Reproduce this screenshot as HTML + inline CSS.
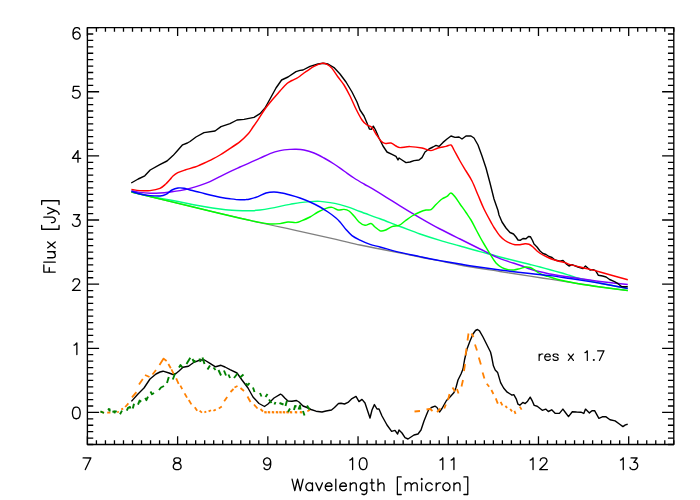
<!DOCTYPE html>
<html><head><meta charset="utf-8"><title>plot</title>
<style>html,body{margin:0;padding:0;background:#fff}svg{display:block}text{font-family:"Liberation Sans",sans-serif;fill:#000}</style></head>
<body>
<svg width="700" height="500" viewBox="0 0 700 500">
<rect width="700" height="500" fill="#fff"/>
<path d="M131.4,192.0 C141.2,194.4 170.2,201.5 190.0,206.2 C209.8,210.9 231.7,216.2 250.0,220.4 C268.3,224.6 285.7,228.1 300.0,231.3 C314.3,234.5 326.0,237.1 336.0,239.4 C346.0,241.7 352.7,243.4 360.0,245.0 C367.3,246.6 370.0,247.0 380.0,249.0 C390.0,251.0 406.7,254.3 420.0,257.0 C433.3,259.7 446.7,262.6 460.0,265.0 C473.3,267.4 488.3,269.6 500.0,271.5 C511.7,273.4 521.7,274.9 530.0,276.2 C538.3,277.5 543.3,278.2 550.0,279.2 C556.7,280.2 561.7,281.0 570.0,282.3 C578.3,283.6 590.4,285.4 600.0,286.8 C609.6,288.2 623.2,290.1 627.8,290.7" fill="none" stroke="#808080" stroke-width="1.3" stroke-linejoin="round" stroke-linecap="butt" />
<path d="M131.4,191.8 C134.5,192.5 143.6,194.8 150.0,196.2 C156.4,197.6 163.3,198.7 170.0,200.0 C176.7,201.3 184.2,202.9 190.0,204.0 C195.8,205.1 200.0,206.0 205.0,206.8 C210.0,207.6 215.5,208.4 220.0,209.0 C224.5,209.6 228.0,209.9 232.0,210.2 C236.0,210.5 240.7,210.6 244.0,210.7 C247.3,210.8 249.3,210.8 252.0,210.7 C254.7,210.6 257.0,210.4 260.0,210.0 C263.0,209.6 266.7,209.0 270.0,208.4 C273.3,207.8 276.7,207.1 280.0,206.4 C283.3,205.7 286.7,205.0 290.0,204.4 C293.3,203.8 296.7,203.1 300.0,202.6 C303.3,202.1 306.7,201.8 310.0,201.6 C313.3,201.4 316.7,201.2 320.0,201.4 C323.3,201.6 326.7,202.1 330.0,202.6 C333.3,203.1 336.7,203.8 340.0,204.6 C343.3,205.4 346.7,206.4 350.0,207.6 C353.3,208.8 355.0,209.6 360.0,211.5 C365.0,213.4 373.3,216.3 380.0,218.8 C386.7,221.3 393.3,224.0 400.0,226.5 C406.7,229.0 413.3,231.7 420.0,234.0 C426.7,236.3 433.3,238.4 440.0,240.4 C446.7,242.4 453.3,244.1 460.0,246.0 C466.7,247.9 473.3,249.8 480.0,251.6 C486.7,253.4 493.3,255.3 500.0,257.0 C506.7,258.7 515.0,260.8 520.0,262.0 C525.0,263.2 526.7,263.7 530.0,264.5 C533.3,265.3 536.7,266.1 540.0,267.0 C543.3,267.9 546.7,268.9 550.0,269.8 C553.3,270.7 556.7,271.6 560.0,272.5 C563.3,273.4 566.7,274.5 570.0,275.5 C573.3,276.5 575.0,277.2 580.0,278.5 C585.0,279.8 592.0,281.7 600.0,283.3 C608.0,284.9 623.2,287.5 627.8,288.3" fill="none" stroke="#00ff80" stroke-width="1.45" stroke-linejoin="round" stroke-linecap="butt" />
<path d="M131.4,190.6 C132.8,190.9 136.9,192.0 140.0,192.4 C143.1,192.8 146.7,193.1 150.0,193.2 C153.3,193.3 156.7,193.2 160.0,193.0 C163.3,192.8 166.7,192.4 170.0,192.0 C173.3,191.6 176.7,191.2 180.0,190.6 C183.3,190.0 186.7,189.3 190.0,188.4 C193.3,187.5 196.7,186.5 200.0,185.4 C203.3,184.3 206.7,183.1 210.0,181.6 C213.3,180.1 216.7,178.3 220.0,176.6 C223.3,174.9 226.7,173.2 230.0,171.6 C233.3,170.0 236.7,168.5 240.0,167.0 C243.3,165.5 246.7,164.1 250.0,162.6 C253.3,161.1 256.7,159.7 260.0,158.2 C263.3,156.7 266.7,154.9 270.0,153.6 C273.3,152.3 276.7,151.3 280.0,150.6 C283.3,149.9 287.3,149.6 290.0,149.4 C292.7,149.2 293.7,149.1 296.0,149.2 C298.3,149.3 301.0,149.4 304.0,150.0 C307.0,150.6 310.7,151.7 314.0,153.0 C317.3,154.3 320.7,156.2 324.0,158.0 C327.3,159.8 330.7,161.8 334.0,164.0 C337.3,166.2 340.7,168.7 344.0,171.0 C347.3,173.3 350.7,175.8 354.0,178.0 C357.3,180.2 360.3,181.9 364.0,184.0 C367.7,186.1 372.0,188.4 376.0,190.8 C380.0,193.2 384.0,195.8 388.0,198.3 C392.0,200.8 394.7,202.6 400.0,205.8 C405.3,209.1 413.3,213.9 420.0,217.8 C426.7,221.7 433.3,225.5 440.0,229.0 C446.7,232.5 453.3,235.7 460.0,239.0 C466.7,242.3 473.3,245.7 480.0,249.0 C486.7,252.3 493.3,255.9 500.0,258.6 C506.7,261.3 515.0,263.5 520.0,265.2 C525.0,266.9 526.7,267.9 530.0,269.0 C533.3,270.1 536.7,271.0 540.0,271.8 C543.3,272.6 546.7,273.3 550.0,274.0 C553.3,274.7 555.0,275.0 560.0,275.8 C565.0,276.6 575.0,277.9 580.0,278.6 C585.0,279.3 586.7,279.5 590.0,280.0 C593.3,280.5 593.7,280.8 600.0,281.5 C606.3,282.2 623.2,284.0 627.8,284.5" fill="none" stroke="#8000ff" stroke-width="1.45" stroke-linejoin="round" stroke-linecap="butt" />
<path d="M131.4,192.0 C134.5,192.8 140.2,194.1 150.0,196.5 C159.8,198.9 178.3,203.4 190.0,206.2 C201.7,209.0 211.7,211.5 220.0,213.5 C228.3,215.5 235.0,217.0 240.0,218.2 C245.0,219.3 246.7,219.7 250.0,220.4 C253.3,221.1 256.7,221.8 260.0,222.4 C263.3,223.0 266.7,223.8 270.0,224.0 C273.3,224.2 277.0,223.9 280.0,223.6 C283.0,223.3 285.3,222.2 288.0,222.0 C290.7,221.8 293.7,222.8 296.0,222.6 C298.3,222.4 299.7,221.5 302.0,220.6 C304.3,219.7 307.3,218.4 310.0,217.0 C312.7,215.6 315.3,213.4 318.0,212.0 C320.7,210.6 323.7,209.2 326.0,208.4 C328.3,207.6 330.0,207.1 332.0,207.4 C334.0,207.7 336.0,209.7 338.0,210.0 C340.0,210.3 342.2,209.2 344.0,209.4 C345.8,209.6 347.3,209.9 349.0,211.0 C350.7,212.1 352.3,214.2 354.0,216.0 C355.7,217.8 357.2,220.4 359.0,222.0 C360.8,223.6 363.0,225.1 365.0,225.3 C367.0,225.6 369.3,223.2 371.0,223.5 C372.7,223.8 373.5,225.8 375.0,227.0 C376.5,228.2 378.3,230.1 380.0,230.7 C381.7,231.2 383.0,231.0 385.0,230.3 C387.0,229.6 389.7,227.4 392.0,226.6 C394.3,225.8 396.8,226.3 399.0,225.4 C401.2,224.5 402.8,222.6 405.0,221.0 C407.2,219.4 409.5,217.5 412.0,216.0 C414.5,214.5 417.7,213.0 420.0,212.0 C422.3,211.0 424.2,210.4 426.0,210.0 C427.8,209.6 429.3,210.5 431.0,209.6 C432.7,208.7 434.2,206.3 436.0,204.5 C437.8,202.7 440.2,200.3 442.0,199.0 C443.8,197.7 445.5,197.4 447.0,196.4 C448.5,195.4 449.7,192.9 451.0,193.0 C452.3,193.1 453.5,195.0 455.0,196.8 C456.5,198.6 458.2,201.4 460.0,204.0 C461.8,206.6 464.2,209.8 466.0,212.5 C467.8,215.2 469.3,217.2 471.0,220.0 C472.7,222.8 474.5,226.7 476.0,229.5 C477.5,232.3 478.7,234.6 480.0,237.0 C481.3,239.4 482.3,241.2 484.0,244.0 C485.7,246.8 488.0,250.8 490.0,254.0 C492.0,257.2 494.0,260.7 496.0,263.0 C498.0,265.3 500.0,266.5 502.0,267.6 C504.0,268.7 506.0,269.2 508.0,269.6 C510.0,270.0 512.0,270.2 514.0,270.0 C516.0,269.8 518.0,269.1 520.0,268.6 C522.0,268.1 524.3,267.2 526.0,267.0 C527.7,266.8 528.7,267.1 530.0,267.5 C531.3,267.9 532.7,268.7 534.0,269.5 C535.3,270.3 536.7,271.7 538.0,272.5 C539.3,273.3 540.7,273.9 542.0,274.5 C543.3,275.1 544.7,275.6 546.0,276.0 C547.3,276.4 547.7,276.3 550.0,277.0 C552.3,277.7 556.7,279.2 560.0,280.0 C563.3,280.8 566.7,281.3 570.0,282.0 C573.3,282.7 576.7,283.4 580.0,284.0 C583.3,284.6 586.7,285.0 590.0,285.5 C593.3,286.0 593.7,286.2 600.0,287.0 C606.3,287.8 623.2,289.9 627.8,290.5" fill="none" stroke="#00ff00" stroke-width="1.45" stroke-linejoin="round" stroke-linecap="butt" />
<path d="M131.4,191.4 C132.8,191.8 136.9,193.3 140.0,194.0 C143.1,194.7 146.7,195.3 150.0,195.6 C153.3,195.9 157.3,196.2 160.0,196.0 C162.7,195.8 164.0,195.4 166.0,194.4 C168.0,193.4 170.0,191.1 172.0,190.0 C174.0,188.9 176.0,188.3 178.0,188.0 C180.0,187.7 182.0,187.9 184.0,188.2 C186.0,188.5 187.3,189.3 190.0,190.0 C192.7,190.7 196.7,191.6 200.0,192.4 C203.3,193.2 206.7,194.2 210.0,195.0 C213.3,195.8 216.7,196.6 220.0,197.2 C223.3,197.8 226.7,198.4 230.0,198.8 C233.3,199.2 237.3,199.7 240.0,199.8 C242.7,199.9 244.3,199.7 246.0,199.6 C247.7,199.5 248.0,199.5 250.0,199.0 C252.0,198.5 255.3,197.6 258.0,196.6 C260.7,195.6 263.3,193.8 266.0,193.0 C268.7,192.2 271.3,192.0 274.0,192.0 C276.7,192.0 279.3,192.5 282.0,193.0 C284.7,193.5 287.0,194.2 290.0,195.0 C293.0,195.8 296.7,196.8 300.0,198.0 C303.3,199.2 306.7,200.5 310.0,202.0 C313.3,203.5 317.0,205.3 320.0,207.0 C323.0,208.7 325.3,210.2 328.0,212.0 C330.7,213.8 334.0,216.3 336.0,218.0 C338.0,219.7 338.3,220.1 340.0,222.0 C341.7,223.9 344.0,227.2 346.0,229.5 C348.0,231.8 349.7,233.8 352.0,235.6 C354.3,237.4 357.0,238.7 360.0,240.2 C363.0,241.7 366.7,243.3 370.0,244.4 C373.3,245.5 375.0,245.7 380.0,247.0 C385.0,248.3 393.3,250.8 400.0,252.4 C406.7,254.0 413.3,255.2 420.0,256.6 C426.7,258.0 433.3,259.4 440.0,260.6 C446.7,261.8 454.2,263.0 460.0,264.0 C465.8,265.0 468.3,265.5 475.0,266.5 C481.7,267.5 490.8,268.8 500.0,270.0 C509.2,271.2 521.7,272.6 530.0,273.5 C538.3,274.4 543.3,274.8 550.0,275.6 C556.7,276.4 563.3,277.5 570.0,278.5 C576.7,279.5 585.0,280.8 590.0,281.6 C595.0,282.4 593.7,282.2 600.0,283.3 C606.3,284.4 623.2,287.6 627.8,288.5" fill="none" stroke="#0000ff" stroke-width="1.45" stroke-linejoin="round" stroke-linecap="butt" />
<path d="M131.2,183.0 L138.2,179.0 L144.8,175.8 L150.2,170.0 L159.8,164.6 L167.0,161.0 L173.0,155.6 L177.8,150.2 L182.6,144.8 L187.4,143.0 L190.0,141.5 L196.0,137.0 L204.0,132.6 L215.0,131.0 L221.0,126.6 L230.0,123.6 L237.0,120.0 L244.0,119.4 L254.0,117.4 L260.0,113.6 L265.0,108.0 L270.0,99.0 L276.0,88.0 L281.6,80.0 L288.0,77.0 L296.0,71.6 L300.0,70.4 L303.0,70.0 L310.0,66.4 L318.0,64.0 L323.0,63.2 L328.0,64.0 L334.0,67.6 L340.0,74.0 L346.0,82.0 L352.0,92.0 L357.0,102.0 L360.0,110.0 L364.0,116.0 L367.0,123.0 L369.4,129.0 L371.4,129.4 L373.3,126.2 L375.3,129.5 L379.0,138.0 L383.0,146.0 L387.0,152.0 L392.0,154.4 L396.0,156.4 L398.0,160.0 L399.0,158.0 L402.0,160.0 L406.0,162.6 L410.0,162.0 L414.0,160.6 L419.0,160.0 L422.0,157.6 L425.0,152.0 L429.0,149.0 L433.0,147.0 L436.0,145.4 L439.0,146.4 L443.0,142.4 L447.0,139.0 L451.0,136.0 L455.0,137.4 L459.0,137.0 L462.0,139.0 L466.0,136.0 L471.0,136.0 L474.0,138.0 L478.0,145.0 L482.0,156.0 L486.0,168.0 L490.0,183.0 L494.0,199.0 L498.0,210.5 L499.0,215.0 L502.0,222.0 L506.0,228.0 L510.0,232.5 L513.5,234.0 L516.0,237.0 L518.0,240.0 L520.5,240.2 L523.0,238.5 L526.0,238.8 L528.5,236.5 L530.5,236.8 L532.5,240.5 L534.0,244.0 L537.0,247.0 L540.0,251.0 L543.0,253.5 L546.0,254.5 L549.0,256.5 L552.0,257.5 L555.0,260.0 L560.0,261.2 L563.0,260.5 L566.0,263.6 L569.0,266.0 L572.0,264.6 L578.0,267.0 L583.0,268.5 L585.5,266.0 L590.0,270.0 L593.1,269.6 L595.6,270.7 L598.4,275.3 L602.6,276.0 L606.1,277.0 L609.6,279.5 L614.5,281.6 L618.0,283.7 L621.5,286.5 L625.0,286.8 L627.8,286.6" fill="none" stroke="#000" stroke-width="1.4" stroke-linejoin="round" stroke-linecap="butt" />
<path d="M131.4,189.4 C132.8,189.6 136.9,190.4 140.0,190.6 C143.1,190.8 146.7,191.0 150.0,190.6 C153.3,190.2 157.4,189.4 160.0,188.3 C162.6,187.2 164.1,185.5 165.8,184.0 C167.5,182.5 168.8,180.8 170.0,179.5 C171.2,178.2 171.7,177.2 173.0,176.0 C174.3,174.8 175.8,173.6 177.8,172.6 C179.8,171.6 182.1,170.9 185.0,170.0 C187.9,169.1 192.5,167.8 195.0,167.0 C197.5,166.2 197.5,166.1 200.0,165.0 C202.5,163.9 206.7,162.1 210.0,160.4 C213.3,158.7 217.0,156.8 220.0,155.0 C223.0,153.2 224.7,152.0 228.0,149.8 C231.3,147.6 236.7,144.2 240.0,141.6 C243.3,139.0 245.8,136.4 248.0,134.0 C250.2,131.6 251.3,129.4 253.0,127.0 C254.7,124.6 256.0,122.8 258.0,119.8 C260.0,116.8 262.5,112.5 265.0,109.0 C267.5,105.5 270.5,102.0 273.0,99.0 C275.5,96.0 277.7,93.6 280.0,91.0 C282.3,88.4 285.0,85.2 287.0,83.5 C289.0,81.8 290.2,81.5 292.0,80.5 C293.8,79.5 296.0,78.8 298.0,77.5 C300.0,76.2 302.3,74.2 304.0,73.0 C305.7,71.8 306.3,71.4 308.0,70.3 C309.7,69.2 311.7,67.6 314.0,66.4 C316.3,65.2 319.8,63.7 322.0,63.4 C324.2,63.1 325.3,63.6 327.0,64.4 C328.7,65.2 330.2,66.3 332.0,68.4 C333.8,70.5 336.0,74.2 338.0,77.0 C340.0,79.8 342.0,81.8 344.0,85.0 C346.0,88.2 348.0,92.0 350.0,96.0 C352.0,100.0 354.0,105.0 356.0,109.0 C358.0,113.0 360.2,117.3 362.0,120.0 C363.8,122.7 365.3,123.8 367.0,125.0 C368.7,126.2 370.5,126.0 372.0,127.5 C373.5,129.0 374.5,131.8 376.0,134.0 C377.5,136.2 379.5,139.4 381.0,141.0 C382.5,142.6 383.3,143.1 385.0,143.4 C386.7,143.7 389.2,142.6 391.0,143.0 C392.8,143.4 394.5,145.2 396.0,146.0 C397.5,146.8 397.7,147.5 400.0,147.6 C402.3,147.7 406.3,146.5 410.0,146.6 C413.7,146.7 418.5,147.3 422.0,148.0 C425.5,148.7 428.3,150.6 431.0,150.6 C433.7,150.6 435.5,148.7 438.0,148.0 C440.5,147.3 443.8,146.9 446.0,146.4 C448.2,145.9 449.7,144.4 451.0,145.0 C452.3,145.6 452.5,147.3 454.0,150.0 C455.5,152.7 458.0,157.5 460.0,161.0 C462.0,164.5 464.0,167.7 466.0,171.0 C468.0,174.3 470.0,177.0 472.0,181.0 C474.0,185.0 476.0,190.3 478.0,195.0 C480.0,199.7 481.7,204.2 484.0,209.0 C486.3,213.8 490.2,220.7 492.0,224.0 C493.8,227.3 493.7,227.0 495.0,229.0 C496.3,231.0 498.3,234.1 500.0,236.0 C501.7,237.9 503.3,239.3 505.0,240.5 C506.7,241.7 508.3,242.5 510.0,243.2 C511.7,243.9 513.3,244.4 515.0,244.7 C516.7,244.9 518.3,244.8 520.0,244.7 C521.7,244.5 523.5,243.9 525.0,243.8 C526.5,243.7 527.7,243.8 529.0,244.3 C530.3,244.8 531.7,245.9 533.0,247.0 C534.3,248.1 535.5,249.8 537.0,251.0 C538.5,252.2 540.3,253.5 542.0,254.5 C543.7,255.5 545.2,256.2 547.0,257.0 C548.8,257.8 551.0,258.8 553.0,259.5 C555.0,260.2 557.0,260.7 559.0,261.2 C561.0,261.7 563.2,262.0 565.0,262.6 C566.8,263.2 567.5,263.9 570.0,264.6 C572.5,265.3 576.7,266.2 580.0,267.0 C583.3,267.8 586.7,268.6 590.0,269.4 C593.3,270.2 593.7,270.3 600.0,272.0 C606.3,273.7 623.2,278.5 627.8,279.8" fill="none" stroke="#ff0000" stroke-width="1.45" stroke-linejoin="round" stroke-linecap="butt" />
<path d="M131.4,401.4 L138.0,394.0 L144.0,388.0 L150.0,379.0 L156.0,374.0 L160.0,372.0 L163.0,371.2 L169.0,373.0 L173.0,374.5 L176.0,373.5 L179.0,371.0 L183.0,367.3 L188.5,366.2 L194.0,362.3 L200.0,360.0 L204.5,360.0 L210.0,363.3 L215.5,366.8 L221.0,365.3 L225.0,367.0 L230.0,369.6 L237.0,373.0 L242.0,380.0 L248.0,388.0 L253.0,397.0 L259.0,403.5 L264.5,406.5 L268.0,404.0 L274.0,398.0 L280.5,394.2 L282.0,395.0 L285.0,398.3 L288.0,401.0 L292.0,401.2 L296.5,400.5 L299.0,402.0 L303.0,406.0 L307.0,407.5 L311.0,409.5 L316.0,411.2 L322.0,412.0 L326.0,411.0 L331.5,410.0 L334.5,407.5 L338.5,403.5 L341.0,403.3 L344.5,404.0 L348.0,402.4 L352.0,398.6 L356.0,396.4 L359.0,401.6 L362.0,399.4 L365.0,403.0 L368.0,412.0 L370.0,418.0 L372.0,410.0 L374.4,404.6 L377.0,409.0 L379.0,409.0 L382.0,416.0 L387.0,425.0 L391.6,431.4 L395.0,430.4 L397.6,434.0 L399.0,430.0 L402.0,433.0 L405.0,437.6 L408.0,439.0 L411.0,437.0 L414.0,435.0 L418.0,434.0 L421.0,430.0 L424.0,421.0 L426.5,414.8 L428.5,410.0 L431.5,407.5 L435.0,406.2 L437.0,407.5 L439.5,412.0 L442.0,408.5 L444.5,404.0 L446.5,400.5 L450.0,397.0 L454.0,392.5 L456.0,387.5 L458.0,380.0 L461.0,374.0 L463.0,369.0 L464.5,360.0 L467.0,349.0 L470.0,341.0 L473.0,334.0 L475.5,330.5 L477.5,329.5 L479.5,330.8 L483.0,337.0 L487.0,345.0 L490.5,352.0 L491.5,356.0 L493.4,365.8 L495.2,370.0 L497.6,372.4 L500.6,382.6 L503.6,388.0 L507.2,392.2 L510.2,394.0 L512.0,395.2 L513.8,394.6 L516.2,398.8 L518.0,404.2 L519.8,405.2 L522.8,402.4 L525.2,403.6 L527.6,401.2 L530.2,397.2 L532.4,401.2 L534.2,405.4 L537.2,406.2 L542.3,410.3 L545.7,409.1 L548.3,411.5 L551.7,409.8 L555.1,413.2 L559.4,413.4 L562.9,409.1 L565.4,412.5 L568.5,416.6 L572.3,411.7 L576.6,412.0 L580.9,412.2 L583.8,413.4 L585.5,409.1 L589.4,412.9 L592.0,410.8 L594.6,410.6 L598.9,418.3 L602.3,416.8 L605.7,416.6 L610.0,419.7 L615.1,420.9 L619.4,424.0 L622.9,426.6 L625.4,424.9 L627.7,424.3" fill="none" stroke="#000" stroke-width="1.4" stroke-linejoin="round" stroke-linecap="butt" />
<path d="M100.8,411.8 L104.0,412.6" fill="none" stroke="#ff8000" stroke-width="1.8" stroke-linejoin="round" stroke-linecap="butt" />
<path d="M107.2,412.6 L110.4,412.6" fill="none" stroke="#ff8000" stroke-width="1.8" stroke-linejoin="round" stroke-linecap="butt" />
<path d="M117.2,411.8 L118.8,412.2" fill="none" stroke="#ff8000" stroke-width="1.8" stroke-linejoin="round" stroke-linecap="butt" />
<path d="M121.2,409.4 L123.2,408.6" fill="none" stroke="#ff8000" stroke-width="1.8" stroke-linejoin="round" stroke-linecap="butt" />
<path d="M125.2,407.0 L128.4,403.4" fill="none" stroke="#ff8000" stroke-width="1.8" stroke-linejoin="round" stroke-linecap="butt" />
<path d="M132.0,397.4 L136.4,392.2" fill="none" stroke="#ff8000" stroke-width="1.8" stroke-linejoin="round" stroke-linecap="butt" />
<path d="M139.0,384.5 L142.8,379.0" fill="none" stroke="#ff8000" stroke-width="1.8" stroke-linejoin="round" stroke-linecap="butt" />
<path d="M145.0,375.0 L149.5,377.0" fill="none" stroke="#ff8000" stroke-width="1.8" stroke-linejoin="round" stroke-linecap="butt" />
<path d="M152.5,374.5 L156.0,370.0" fill="none" stroke="#ff8000" stroke-width="1.8" stroke-linejoin="round" stroke-linecap="butt" />
<path d="M159.5,365.0 L163.6,358.6 L166.6,361.0" fill="none" stroke="#ff8000" stroke-width="1.8" stroke-linejoin="round" stroke-linecap="butt" />
<path d="M168.4,364.0 L170.8,368.2" fill="none" stroke="#ff8000" stroke-width="1.8" stroke-linejoin="round" stroke-linecap="butt" />
<path d="M171.4,369.4 L173.8,374.2" fill="none" stroke="#ff8000" stroke-width="1.8" stroke-linejoin="round" stroke-linecap="butt" />
<path d="M176.2,378.4 L178.6,383.8" fill="none" stroke="#ff8000" stroke-width="1.8" stroke-linejoin="round" stroke-linecap="butt" />
<path d="M180.4,385.6 L182.2,389.2" fill="none" stroke="#ff8000" stroke-width="1.8" stroke-linejoin="round" stroke-linecap="butt" />
<path d="M184.6,393.4 L187.0,397.6" fill="none" stroke="#ff8000" stroke-width="1.8" stroke-linejoin="round" stroke-linecap="butt" />
<path d="M188.8,400.0 L191.4,404.4" fill="none" stroke="#ff8000" stroke-width="1.8" stroke-linejoin="round" stroke-linecap="butt" />
<path d="M194.8,407.2 L197.2,410.8" fill="none" stroke="#ff8000" stroke-width="1.8" stroke-linejoin="round" stroke-linecap="butt" />
<path d="M199.6,410.8 L202.0,412.6" fill="none" stroke="#ff8000" stroke-width="1.8" stroke-linejoin="round" stroke-linecap="butt" />
<path d="M204.4,412.6 L206.2,411.4" fill="none" stroke="#ff8000" stroke-width="1.8" stroke-linejoin="round" stroke-linecap="butt" />
<path d="M208.6,411.4 L211.0,410.2" fill="none" stroke="#ff8000" stroke-width="1.8" stroke-linejoin="round" stroke-linecap="butt" />
<path d="M213.4,410.8 L215.8,409.6" fill="none" stroke="#ff8000" stroke-width="1.8" stroke-linejoin="round" stroke-linecap="butt" />
<path d="M218.8,408.4 L221.8,406.6" fill="none" stroke="#ff8000" stroke-width="1.8" stroke-linejoin="round" stroke-linecap="butt" />
<path d="M224.2,401.2 L227.2,397.0" fill="none" stroke="#ff8000" stroke-width="1.8" stroke-linejoin="round" stroke-linecap="butt" />
<path d="M230.5,392.0 L233.5,389.0" fill="none" stroke="#ff8000" stroke-width="1.8" stroke-linejoin="round" stroke-linecap="butt" />
<path d="M234.5,387.5 L237.5,386.0" fill="none" stroke="#ff8000" stroke-width="1.8" stroke-linejoin="round" stroke-linecap="butt" />
<path d="M240.5,388.0 L244.0,391.0" fill="none" stroke="#ff8000" stroke-width="1.8" stroke-linejoin="round" stroke-linecap="butt" />
<path d="M247.5,396.5 L250.5,402.0" fill="none" stroke="#ff8000" stroke-width="1.8" stroke-linejoin="round" stroke-linecap="butt" />
<path d="M254.0,404.5 L257.5,408.5" fill="none" stroke="#ff8000" stroke-width="1.8" stroke-linejoin="round" stroke-linecap="butt" />
<path d="M260.5,409.0 L263.0,411.5" fill="none" stroke="#ff8000" stroke-width="1.8" stroke-linejoin="round" stroke-linecap="butt" />
<path d="M264.3,412.2 L266.7,412.3" fill="none" stroke="#ff8000" stroke-width="2.2" stroke-linejoin="round" stroke-linecap="butt" />
<path d="M267.8,412.2 L270.2,412.3" fill="none" stroke="#ff8000" stroke-width="2.2" stroke-linejoin="round" stroke-linecap="butt" />
<path d="M271.8,412.2 L274.2,412.3" fill="none" stroke="#ff8000" stroke-width="2.2" stroke-linejoin="round" stroke-linecap="butt" />
<path d="M275.8,412.2 L278.2,412.3" fill="none" stroke="#ff8000" stroke-width="2.2" stroke-linejoin="round" stroke-linecap="butt" />
<path d="M279.3,412.2 L281.7,412.3" fill="none" stroke="#ff8000" stroke-width="2.2" stroke-linejoin="round" stroke-linecap="butt" />
<path d="M282.8,412.2 L285.2,412.3" fill="none" stroke="#ff8000" stroke-width="2.2" stroke-linejoin="round" stroke-linecap="butt" />
<path d="M286.3,412.2 L288.7,412.3" fill="none" stroke="#ff8000" stroke-width="2.2" stroke-linejoin="round" stroke-linecap="butt" />
<path d="M289.8,412.2 L292.2,412.3" fill="none" stroke="#ff8000" stroke-width="2.2" stroke-linejoin="round" stroke-linecap="butt" />
<path d="M294.8,412.2 L297.2,412.3" fill="none" stroke="#ff8000" stroke-width="2.2" stroke-linejoin="round" stroke-linecap="butt" />
<path d="M299.8,412.2 L302.2,412.3" fill="none" stroke="#ff8000" stroke-width="2.2" stroke-linejoin="round" stroke-linecap="butt" />
<path d="M307.3,411.2 L310.0,410.0" fill="none" stroke="#ff8000" stroke-width="1.8" stroke-linejoin="round" stroke-linecap="butt" />
<path d="M414.5,411.5 L420.0,411.0" fill="none" stroke="#ff8000" stroke-width="1.8" stroke-linejoin="round" stroke-linecap="butt" />
<path d="M426.5,409.5 L430.0,408.8 L432.5,411.0" fill="none" stroke="#ff8000" stroke-width="1.8" stroke-linejoin="round" stroke-linecap="butt" />
<path d="M437.0,412.0 L440.5,408.5" fill="none" stroke="#ff8000" stroke-width="1.8" stroke-linejoin="round" stroke-linecap="butt" />
<path d="M444.3,408.5 L445.8,404.5" fill="none" stroke="#ff8000" stroke-width="1.8" stroke-linejoin="round" stroke-linecap="butt" />
<path d="M448.0,400.0 L449.5,394.0" fill="none" stroke="#ff8000" stroke-width="1.8" stroke-linejoin="round" stroke-linecap="butt" />
<path d="M452.5,387.5 L455.0,391.5" fill="none" stroke="#ff8000" stroke-width="1.8" stroke-linejoin="round" stroke-linecap="butt" />
<path d="M457.0,389.0 L458.5,393.5" fill="none" stroke="#ff8000" stroke-width="1.8" stroke-linejoin="round" stroke-linecap="butt" />
<path d="M461.5,386.5 L463.0,380.0" fill="none" stroke="#ff8000" stroke-width="1.8" stroke-linejoin="round" stroke-linecap="butt" />
<path d="M464.0,371.0 L465.0,364.0" fill="none" stroke="#ff8000" stroke-width="1.8" stroke-linejoin="round" stroke-linecap="butt" />
<path d="M465.5,355.5 L466.5,348.5" fill="none" stroke="#ff8000" stroke-width="1.8" stroke-linejoin="round" stroke-linecap="butt" />
<path d="M467.5,340.5 L468.5,333.5" fill="none" stroke="#ff8000" stroke-width="1.8" stroke-linejoin="round" stroke-linecap="butt" />
<path d="M471.5,333.5 L473.5,337.0" fill="none" stroke="#ff8000" stroke-width="1.8" stroke-linejoin="round" stroke-linecap="butt" />
<path d="M475.0,344.5 L477.0,350.5" fill="none" stroke="#ff8000" stroke-width="1.8" stroke-linejoin="round" stroke-linecap="butt" />
<path d="M478.8,357.4 L480.9,364.6" fill="none" stroke="#ff8000" stroke-width="1.8" stroke-linejoin="round" stroke-linecap="butt" />
<path d="M482.6,372.4 L484.4,378.4" fill="none" stroke="#ff8000" stroke-width="1.8" stroke-linejoin="round" stroke-linecap="butt" />
<path d="M486.8,383.8 L489.2,386.8" fill="none" stroke="#ff8000" stroke-width="1.8" stroke-linejoin="round" stroke-linecap="butt" />
<path d="M491.4,390.0 L493.4,394.0" fill="none" stroke="#ff8000" stroke-width="1.8" stroke-linejoin="round" stroke-linecap="butt" />
<path d="M495.8,398.4 L497.8,403.6" fill="none" stroke="#ff8000" stroke-width="1.8" stroke-linejoin="round" stroke-linecap="butt" />
<path d="M500.6,401.8 L502.4,405.4" fill="none" stroke="#ff8000" stroke-width="1.8" stroke-linejoin="round" stroke-linecap="butt" />
<path d="M505.4,406.0 L507.2,407.8" fill="none" stroke="#ff8000" stroke-width="1.8" stroke-linejoin="round" stroke-linecap="butt" />
<path d="M510.2,409.0 L512.0,411.4" fill="none" stroke="#ff8000" stroke-width="1.8" stroke-linejoin="round" stroke-linecap="butt" />
<path d="M514.4,410.8 L515.6,413.8" fill="none" stroke="#ff8000" stroke-width="1.8" stroke-linejoin="round" stroke-linecap="butt" />
<path d="M519.8,406.6 L521.6,409.6" fill="none" stroke="#ff8000" stroke-width="1.8" stroke-linejoin="round" stroke-linecap="butt" />
<path d="M100.4,411.4 L104.0,413.0" fill="none" stroke="#008000" stroke-width="1.9" stroke-linejoin="round" stroke-linecap="butt" />
<path d="M108.0,408.6 L110.0,410.6" fill="none" stroke="#008000" stroke-width="1.9" stroke-linejoin="round" stroke-linecap="butt" />
<path d="M109.3,408.3 L109.7,411.5" fill="none" stroke="#008000" stroke-width="1.9" stroke-linejoin="round" stroke-linecap="butt" />
<path d="M112.4,411.8 L116.8,411.4" fill="none" stroke="#008000" stroke-width="1.9" stroke-linejoin="round" stroke-linecap="butt" />
<path d="M114.4,410.6 L114.8,413.4" fill="none" stroke="#008000" stroke-width="1.9" stroke-linejoin="round" stroke-linecap="butt" />
<path d="M120.0,414.2 L122.0,410.6" fill="none" stroke="#008000" stroke-width="1.9" stroke-linejoin="round" stroke-linecap="butt" />
<path d="M126.8,410.6 L128.0,407.8 L130.0,407.0 L130.4,408.6" fill="none" stroke="#008000" stroke-width="1.9" stroke-linejoin="round" stroke-linecap="butt" />
<path d="M132.8,408.6 L134.0,403.8" fill="none" stroke="#008000" stroke-width="1.9" stroke-linejoin="round" stroke-linecap="butt" />
<path d="M138.0,404.6 L139.6,400.6 L141.2,401.8" fill="none" stroke="#008000" stroke-width="1.9" stroke-linejoin="round" stroke-linecap="butt" />
<path d="M145.2,397.8 L146.4,400.2 L148.0,396.6" fill="none" stroke="#008000" stroke-width="1.9" stroke-linejoin="round" stroke-linecap="butt" />
<path d="M150.5,391.5 L152.0,394.2 L154.0,393.0" fill="none" stroke="#008000" stroke-width="1.9" stroke-linejoin="round" stroke-linecap="butt" />
<path d="M159.0,390.0 L161.0,387.5 L164.0,386.0" fill="none" stroke="#008000" stroke-width="1.9" stroke-linejoin="round" stroke-linecap="butt" />
<path d="M167.0,383.0 L168.8,377.0" fill="none" stroke="#008000" stroke-width="1.9" stroke-linejoin="round" stroke-linecap="butt" />
<path d="M172.8,379.5 L175.0,373.5" fill="none" stroke="#008000" stroke-width="1.9" stroke-linejoin="round" stroke-linecap="butt" />
<path d="M179.0,367.5 L180.5,365.0 L182.5,367.5" fill="none" stroke="#008000" stroke-width="1.9" stroke-linejoin="round" stroke-linecap="butt" />
<path d="M186.5,364.0 L190.3,357.8" fill="none" stroke="#008000" stroke-width="1.9" stroke-linejoin="round" stroke-linecap="butt" />
<path d="M192.5,359.0 L194.0,362.0 L195.5,360.5" fill="none" stroke="#008000" stroke-width="1.9" stroke-linejoin="round" stroke-linecap="butt" />
<path d="M199.5,358.5 L200.5,362.0" fill="none" stroke="#008000" stroke-width="1.9" stroke-linejoin="round" stroke-linecap="butt" />
<path d="M202.5,357.5 L204.5,364.0" fill="none" stroke="#008000" stroke-width="1.9" stroke-linejoin="round" stroke-linecap="butt" />
<path d="M207.5,369.5 L210.0,365.5" fill="none" stroke="#008000" stroke-width="1.9" stroke-linejoin="round" stroke-linecap="butt" />
<path d="M213.5,367.5 L215.5,370.0" fill="none" stroke="#008000" stroke-width="1.9" stroke-linejoin="round" stroke-linecap="butt" />
<path d="M218.5,370.0 L221.0,375.5" fill="none" stroke="#008000" stroke-width="1.9" stroke-linejoin="round" stroke-linecap="butt" />
<path d="M224.0,370.5 L226.0,375.5" fill="none" stroke="#008000" stroke-width="1.9" stroke-linejoin="round" stroke-linecap="butt" />
<path d="M228.5,374.5 L230.0,378.0" fill="none" stroke="#008000" stroke-width="1.9" stroke-linejoin="round" stroke-linecap="butt" />
<path d="M234.0,378.0 L237.5,373.5" fill="none" stroke="#008000" stroke-width="1.9" stroke-linejoin="round" stroke-linecap="butt" />
<path d="M240.0,377.5 L243.5,374.5" fill="none" stroke="#008000" stroke-width="1.9" stroke-linejoin="round" stroke-linecap="butt" />
<path d="M245.5,383.5 L248.0,385.0 L249.5,383.0" fill="none" stroke="#008000" stroke-width="1.9" stroke-linejoin="round" stroke-linecap="butt" />
<path d="M253.0,387.5 L254.5,392.0" fill="none" stroke="#008000" stroke-width="1.9" stroke-linejoin="round" stroke-linecap="butt" />
<path d="M260.0,393.0 L261.5,396.5" fill="none" stroke="#008000" stroke-width="1.9" stroke-linejoin="round" stroke-linecap="butt" />
<path d="M265.5,397.0 L267.5,394.0" fill="none" stroke="#008000" stroke-width="1.9" stroke-linejoin="round" stroke-linecap="butt" />
<path d="M269.0,399.5 L271.5,403.0" fill="none" stroke="#008000" stroke-width="1.9" stroke-linejoin="round" stroke-linecap="butt" />
<path d="M274.5,404.5 L275.5,402.0" fill="none" stroke="#008000" stroke-width="1.9" stroke-linejoin="round" stroke-linecap="butt" />
<path d="M279.5,403.0 L283.5,404.5" fill="none" stroke="#008000" stroke-width="1.9" stroke-linejoin="round" stroke-linecap="butt" />
<path d="M285.5,406.0 L287.0,400.5" fill="none" stroke="#008000" stroke-width="1.9" stroke-linejoin="round" stroke-linecap="butt" />
<path d="M288.0,412.0 L290.0,408.5" fill="none" stroke="#008000" stroke-width="1.9" stroke-linejoin="round" stroke-linecap="butt" />
<path d="M294.0,410.0 L295.0,406.0 L296.5,406.5" fill="none" stroke="#008000" stroke-width="1.9" stroke-linejoin="round" stroke-linecap="butt" />
<path d="M298.5,409.5 L300.0,405.5 L300.5,409.5" fill="none" stroke="#008000" stroke-width="1.9" stroke-linejoin="round" stroke-linecap="butt" />
<path d="M303.0,411.0 L304.5,415.5" fill="none" stroke="#008000" stroke-width="1.9" stroke-linejoin="round" stroke-linecap="butt" />
<path d="M307.0,405.5 L309.5,409.5" fill="none" stroke="#008000" stroke-width="1.9" stroke-linejoin="round" stroke-linecap="butt" />
<path d="M87.4,27.6 H673.8 V444.5 H87.4 Z" fill="none" stroke="#000" stroke-width="1.35" stroke-linejoin="round"/>
<path d="M87.40,444.5 v-8.3 M87.40,27.6 v8.3 M96.42,444.5 v-4.15 M96.42,27.6 v4.15 M105.44,444.5 v-4.15 M105.44,27.6 v4.15 M114.46,444.5 v-4.15 M114.46,27.6 v4.15 M123.49,444.5 v-4.15 M123.49,27.6 v4.15 M132.51,444.5 v-4.15 M132.51,27.6 v4.15 M141.53,444.5 v-4.15 M141.53,27.6 v4.15 M150.55,444.5 v-4.15 M150.55,27.6 v4.15 M159.57,444.5 v-4.15 M159.57,27.6 v4.15 M168.59,444.5 v-4.15 M168.59,27.6 v4.15 M177.62,444.5 v-8.3 M177.62,27.6 v8.3 M186.64,444.5 v-4.15 M186.64,27.6 v4.15 M195.66,444.5 v-4.15 M195.66,27.6 v4.15 M204.68,444.5 v-4.15 M204.68,27.6 v4.15 M213.70,444.5 v-4.15 M213.70,27.6 v4.15 M222.72,444.5 v-4.15 M222.72,27.6 v4.15 M231.74,444.5 v-4.15 M231.74,27.6 v4.15 M240.77,444.5 v-4.15 M240.77,27.6 v4.15 M249.79,444.5 v-4.15 M249.79,27.6 v4.15 M258.81,444.5 v-4.15 M258.81,27.6 v4.15 M267.83,444.5 v-8.3 M267.83,27.6 v8.3 M276.85,444.5 v-4.15 M276.85,27.6 v4.15 M285.87,444.5 v-4.15 M285.87,27.6 v4.15 M294.90,444.5 v-4.15 M294.90,27.6 v4.15 M303.92,444.5 v-4.15 M303.92,27.6 v4.15 M312.94,444.5 v-4.15 M312.94,27.6 v4.15 M321.96,444.5 v-4.15 M321.96,27.6 v4.15 M330.98,444.5 v-4.15 M330.98,27.6 v4.15 M340.00,444.5 v-4.15 M340.00,27.6 v4.15 M349.02,444.5 v-4.15 M349.02,27.6 v4.15 M358.05,444.5 v-8.3 M358.05,27.6 v8.3 M367.07,444.5 v-4.15 M367.07,27.6 v4.15 M376.09,444.5 v-4.15 M376.09,27.6 v4.15 M385.11,444.5 v-4.15 M385.11,27.6 v4.15 M394.13,444.5 v-4.15 M394.13,27.6 v4.15 M403.15,444.5 v-4.15 M403.15,27.6 v4.15 M412.18,444.5 v-4.15 M412.18,27.6 v4.15 M421.20,444.5 v-4.15 M421.20,27.6 v4.15 M430.22,444.5 v-4.15 M430.22,27.6 v4.15 M439.24,444.5 v-4.15 M439.24,27.6 v4.15 M448.26,444.5 v-8.3 M448.26,27.6 v8.3 M457.28,444.5 v-4.15 M457.28,27.6 v4.15 M466.30,444.5 v-4.15 M466.30,27.6 v4.15 M475.33,444.5 v-4.15 M475.33,27.6 v4.15 M484.35,444.5 v-4.15 M484.35,27.6 v4.15 M493.37,444.5 v-4.15 M493.37,27.6 v4.15 M502.39,444.5 v-4.15 M502.39,27.6 v4.15 M511.41,444.5 v-4.15 M511.41,27.6 v4.15 M520.43,444.5 v-4.15 M520.43,27.6 v4.15 M529.46,444.5 v-4.15 M529.46,27.6 v4.15 M538.48,444.5 v-8.3 M538.48,27.6 v8.3 M547.50,444.5 v-4.15 M547.50,27.6 v4.15 M556.52,444.5 v-4.15 M556.52,27.6 v4.15 M565.54,444.5 v-4.15 M565.54,27.6 v4.15 M574.56,444.5 v-4.15 M574.56,27.6 v4.15 M583.58,444.5 v-4.15 M583.58,27.6 v4.15 M592.61,444.5 v-4.15 M592.61,27.6 v4.15 M601.63,444.5 v-4.15 M601.63,27.6 v4.15 M610.65,444.5 v-4.15 M610.65,27.6 v4.15 M619.67,444.5 v-4.15 M619.67,27.6 v4.15 M628.69,444.5 v-8.3 M628.69,27.6 v8.3 M637.71,444.5 v-4.15 M637.71,27.6 v4.15 M646.74,444.5 v-4.15 M646.74,27.6 v4.15 M655.76,444.5 v-4.15 M655.76,27.6 v4.15 M664.78,444.5 v-4.15 M664.78,27.6 v4.15 M673.80,444.5 v-4.15 M673.80,27.6 v4.15 M87.4,444.50 h5.85 M673.8,444.50 h-5.85 M87.4,438.09 h5.85 M673.8,438.09 h-5.85 M87.4,431.67 h5.85 M673.8,431.67 h-5.85 M87.4,425.26 h5.85 M673.8,425.26 h-5.85 M87.4,418.84 h5.85 M673.8,418.84 h-5.85 M87.4,412.43 h11.7 M673.8,412.43 h-11.7 M87.4,406.02 h5.85 M673.8,406.02 h-5.85 M87.4,399.60 h5.85 M673.8,399.60 h-5.85 M87.4,393.19 h5.85 M673.8,393.19 h-5.85 M87.4,386.78 h5.85 M673.8,386.78 h-5.85 M87.4,380.36 h5.85 M673.8,380.36 h-5.85 M87.4,373.95 h5.85 M673.8,373.95 h-5.85 M87.4,367.53 h5.85 M673.8,367.53 h-5.85 M87.4,361.12 h5.85 M673.8,361.12 h-5.85 M87.4,354.71 h5.85 M673.8,354.71 h-5.85 M87.4,348.29 h11.7 M673.8,348.29 h-11.7 M87.4,341.88 h5.85 M673.8,341.88 h-5.85 M87.4,335.46 h5.85 M673.8,335.46 h-5.85 M87.4,329.05 h5.85 M673.8,329.05 h-5.85 M87.4,322.64 h5.85 M673.8,322.64 h-5.85 M87.4,316.22 h5.85 M673.8,316.22 h-5.85 M87.4,309.81 h5.85 M673.8,309.81 h-5.85 M87.4,303.40 h5.85 M673.8,303.40 h-5.85 M87.4,296.98 h5.85 M673.8,296.98 h-5.85 M87.4,290.57 h5.85 M673.8,290.57 h-5.85 M87.4,284.15 h11.7 M673.8,284.15 h-11.7 M87.4,277.74 h5.85 M673.8,277.74 h-5.85 M87.4,271.33 h5.85 M673.8,271.33 h-5.85 M87.4,264.91 h5.85 M673.8,264.91 h-5.85 M87.4,258.50 h5.85 M673.8,258.50 h-5.85 M87.4,252.08 h5.85 M673.8,252.08 h-5.85 M87.4,245.67 h5.85 M673.8,245.67 h-5.85 M87.4,239.26 h5.85 M673.8,239.26 h-5.85 M87.4,232.84 h5.85 M673.8,232.84 h-5.85 M87.4,226.43 h5.85 M673.8,226.43 h-5.85 M87.4,220.02 h11.7 M673.8,220.02 h-11.7 M87.4,213.60 h5.85 M673.8,213.60 h-5.85 M87.4,207.19 h5.85 M673.8,207.19 h-5.85 M87.4,200.77 h5.85 M673.8,200.77 h-5.85 M87.4,194.36 h5.85 M673.8,194.36 h-5.85 M87.4,187.95 h5.85 M673.8,187.95 h-5.85 M87.4,181.53 h5.85 M673.8,181.53 h-5.85 M87.4,175.12 h5.85 M673.8,175.12 h-5.85 M87.4,168.70 h5.85 M673.8,168.70 h-5.85 M87.4,162.29 h5.85 M673.8,162.29 h-5.85 M87.4,155.88 h11.7 M673.8,155.88 h-11.7 M87.4,149.46 h5.85 M673.8,149.46 h-5.85 M87.4,143.05 h5.85 M673.8,143.05 h-5.85 M87.4,136.64 h5.85 M673.8,136.64 h-5.85 M87.4,130.22 h5.85 M673.8,130.22 h-5.85 M87.4,123.81 h5.85 M673.8,123.81 h-5.85 M87.4,117.39 h5.85 M673.8,117.39 h-5.85 M87.4,110.98 h5.85 M673.8,110.98 h-5.85 M87.4,104.57 h5.85 M673.8,104.57 h-5.85 M87.4,98.15 h5.85 M673.8,98.15 h-5.85 M87.4,91.74 h11.7 M673.8,91.74 h-11.7 M87.4,85.32 h5.85 M673.8,85.32 h-5.85 M87.4,78.91 h5.85 M673.8,78.91 h-5.85 M87.4,72.50 h5.85 M673.8,72.50 h-5.85 M87.4,66.08 h5.85 M673.8,66.08 h-5.85 M87.4,59.67 h5.85 M673.8,59.67 h-5.85 M87.4,53.26 h5.85 M673.8,53.26 h-5.85 M87.4,46.84 h5.85 M673.8,46.84 h-5.85 M87.4,40.43 h5.85 M673.8,40.43 h-5.85 M87.4,34.01 h5.85 M673.8,34.01 h-5.85 M87.4,27.60 h11.7 M673.8,27.60 h-11.7" fill="none" stroke="#000" stroke-width="1.3" stroke-linecap="butt"/>
<path d="M90.83,457.96 L83.10,457.96 L90.83,458.03 L85.31,469.55Z" fill="none" stroke="#000" stroke-width="1.3" stroke-linejoin="round" stroke-linecap="round"/>
<path d="M174.97,463.48 L177.11,462.79 L179.39,463.48 L180.49,464.58 L181.04,465.69 L181.04,467.41 L180.56,468.38 L179.94,469.00 L178.35,469.55 L176.01,469.55 L174.42,469.00 L173.80,468.38 L173.32,467.41 L173.32,465.69 L173.87,464.58Z M173.87,459.61 L174.56,458.44 L176.01,457.96 L178.35,457.96 L179.80,458.44 L180.01,458.65 L180.49,459.61 L180.49,460.79 L179.87,461.89 L178.70,462.44 L177.11,462.79 L175.52,462.37 L174.42,461.82 L173.87,460.79Z M176.01,457.96 L174.42,458.51 L173.87,459.61 L173.87,460.79 L174.42,461.82 L175.52,462.37 L177.11,462.79 L174.97,463.48 L173.87,464.58 L173.32,465.69 L173.32,467.41 L173.80,468.38 L174.56,469.07 L176.01,469.55 L178.35,469.55 L179.94,469.00 L180.56,468.38 L181.04,467.41 L181.04,465.69 L180.49,464.58 L179.39,463.48 L177.32,462.79 L178.91,462.37 L179.87,461.89 L180.49,460.79 L180.49,459.61 L179.94,458.51 L178.35,457.96Z" fill="none" stroke="#000" stroke-width="1.3" stroke-linejoin="round" stroke-linecap="round"/>
<path d="M266.78,457.96 L267.47,457.96 L269.05,458.51 L270.16,459.61 L270.71,461.75 L270.16,463.48 L269.05,464.58 L267.47,465.13 L266.78,465.13 L265.19,464.58 L264.08,463.48 L263.53,461.89 L263.53,461.20 L264.08,459.61 L265.19,458.51Z M266.78,457.96 L265.19,458.51 L264.02,459.75 L263.53,461.20 L263.53,461.89 L264.08,463.48 L265.33,464.65 L266.78,465.13 L267.47,465.13 L269.05,464.58 L270.16,463.48 L270.57,462.17 L270.71,462.17 L270.71,464.72 L270.16,467.34 L269.05,469.00 L267.47,469.55 L266.22,469.55 L264.57,468.93 L264.08,467.89 L264.64,469.00 L266.22,469.55 L267.47,469.55 L269.05,469.00 L270.23,467.13 L270.71,464.72 L270.71,461.75 L270.16,459.61 L269.05,458.51 L267.47,457.96Z" fill="none" stroke="#000" stroke-width="1.3" stroke-linejoin="round" stroke-linecap="round"/>
<path d="M352.61,457.96 L350.88,459.68 L349.85,460.17 L350.88,459.68 L352.54,458.03 L352.61,458.10 L352.61,469.55Z M362.55,457.96 L363.79,457.96 L365.44,458.58 L366.48,460.17 L367.03,462.79 L367.03,464.72 L366.48,467.34 L365.37,469.00 L363.79,469.55 L362.55,469.55 L360.89,468.93 L359.85,467.34 L359.30,464.72 L359.30,462.79 L359.85,460.17 L360.96,458.51Z M362.55,457.96 L360.96,458.51 L359.85,460.17 L359.30,462.79 L359.30,464.72 L359.85,467.34 L360.89,468.93 L362.55,469.55 L363.79,469.55 L365.37,469.00 L366.48,467.34 L367.03,464.72 L367.03,462.79 L366.48,460.17 L365.44,458.58 L363.79,457.96Z" fill="none" stroke="#000" stroke-width="1.3" stroke-linejoin="round" stroke-linecap="round"/>
<path d="M442.82,457.96 L441.10,459.68 L440.06,460.17 L441.10,459.68 L442.76,458.03 L442.82,458.10 L442.82,469.55Z M453.93,457.96 L452.21,459.68 L451.17,460.17 L452.21,459.68 L453.86,458.03 L453.93,458.10 L453.93,469.55Z" fill="none" stroke="#000" stroke-width="1.3" stroke-linejoin="round" stroke-linecap="round"/>
<path d="M533.04,457.96 L531.31,459.68 L530.28,460.17 L531.31,459.68 L532.97,458.03 L533.04,458.10 L533.04,469.55Z M542.49,457.96 L541.39,458.51 L540.84,459.06 L540.28,460.17 L540.28,460.72 L540.28,460.17 L540.84,459.06 L541.39,458.51 L542.49,457.96 L544.77,457.96 L545.74,458.44 L546.36,459.06 L546.91,460.17 L546.91,461.34 L546.43,462.31 L545.32,463.96 L539.73,469.55 L547.46,469.55 L539.80,469.48 L545.32,463.96 L546.43,462.31 L546.91,461.34 L546.91,460.17 L546.36,459.06 L545.74,458.44 L544.77,457.96Z" fill="none" stroke="#000" stroke-width="1.3" stroke-linejoin="round" stroke-linecap="round"/>
<path d="M623.26,457.96 L621.53,459.68 L620.50,460.17 L621.53,459.68 L623.19,458.03 L623.26,458.10 L623.26,469.55Z M631.05,457.96 L637.06,458.03 L633.81,462.37 L635.54,462.37 L636.50,462.86 L637.12,463.48 L637.68,465.06 L637.68,466.31 L637.19,467.76 L635.88,469.07 L634.43,469.55 L632.64,469.55 L631.05,469.00 L630.43,468.38 L629.95,467.34 L630.43,468.38 L631.05,469.00 L632.64,469.55 L634.43,469.55 L635.88,469.07 L637.12,467.89 L637.68,466.31 L637.68,465.06 L637.12,463.48 L636.50,462.86 L635.54,462.37 L633.88,462.31 L637.12,457.96Z" fill="none" stroke="#000" stroke-width="1.3" stroke-linejoin="round" stroke-linecap="round"/>
<path d="M75.69,407.14 L76.93,407.14 L78.59,407.76 L79.62,409.35 L80.17,411.97 L80.17,413.90 L79.62,416.52 L78.52,418.18 L76.93,418.73 L75.69,418.73 L74.03,418.11 L73.00,416.52 L72.45,413.90 L72.45,411.97 L73.00,409.35 L74.10,407.69Z M75.69,407.14 L74.10,407.69 L73.00,409.35 L72.45,411.97 L72.45,413.90 L73.00,416.52 L74.03,418.11 L75.69,418.73 L76.93,418.73 L78.52,418.18 L79.62,416.52 L80.17,413.90 L80.17,411.97 L79.62,409.35 L78.59,407.76 L76.93,407.14Z" fill="none" stroke="#000" stroke-width="1.3" stroke-linejoin="round" stroke-linecap="round"/>
<path d="M76.86,343.00 L75.14,344.73 L74.10,345.21 L75.14,344.73 L76.79,343.07 L76.86,343.14 L76.86,354.59Z" fill="none" stroke="#000" stroke-width="1.3" stroke-linejoin="round" stroke-linecap="round"/>
<path d="M75.21,278.86 L74.10,279.41 L73.55,279.97 L73.00,281.07 L73.00,281.62 L73.00,281.07 L73.55,279.97 L74.10,279.41 L75.21,278.86 L77.48,278.86 L78.45,279.34 L79.07,279.97 L79.62,281.07 L79.62,282.24 L79.14,283.21 L78.04,284.86 L72.45,290.45 L80.17,290.45 L72.52,290.38 L78.04,284.86 L79.14,283.21 L79.62,282.24 L79.62,281.07 L79.07,279.97 L78.45,279.34 L77.48,278.86Z" fill="none" stroke="#000" stroke-width="1.3" stroke-linejoin="round" stroke-linecap="round"/>
<path d="M73.55,214.72 L79.55,214.79 L76.31,219.14 L78.04,219.14 L79.00,219.62 L79.62,220.24 L80.17,221.83 L80.17,223.07 L79.69,224.52 L78.38,225.83 L76.93,226.32 L75.14,226.32 L73.55,225.76 L72.93,225.14 L72.45,224.11 L72.93,225.14 L73.55,225.76 L75.14,226.32 L76.93,226.32 L78.38,225.83 L79.62,224.66 L80.17,223.07 L80.17,221.83 L79.62,220.24 L79.00,219.62 L78.04,219.14 L76.38,219.07 L79.62,214.72Z" fill="none" stroke="#000" stroke-width="1.3" stroke-linejoin="round" stroke-linecap="round"/>
<path d="M77.90,150.72 L77.97,158.24 L72.58,158.31 L72.52,158.17Z M77.97,150.58 L72.45,158.31 L77.90,158.31 L77.97,162.18 L77.97,158.38 L80.73,158.31 L77.97,158.24Z" fill="none" stroke="#000" stroke-width="1.3" stroke-linejoin="round" stroke-linecap="round"/>
<path d="M73.55,86.45 L73.00,91.41 L73.55,90.86 L75.14,90.31 L76.93,90.31 L78.52,90.86 L79.69,92.10 L80.17,93.55 L80.17,94.80 L79.62,96.38 L78.38,97.56 L76.93,98.04 L75.14,98.04 L73.55,97.49 L72.93,96.87 L72.45,95.83 L72.93,96.87 L73.55,97.49 L75.14,98.04 L76.93,98.04 L78.38,97.56 L79.62,96.38 L80.17,94.80 L80.17,93.55 L79.62,91.97 L78.52,90.86 L76.93,90.31 L75.14,90.31 L73.69,90.79 L73.07,91.35 L73.00,91.28 L73.48,86.79 L73.62,86.45 L79.07,86.45Z" fill="none" stroke="#000" stroke-width="1.3" stroke-linejoin="round" stroke-linecap="round"/>
<path d="M76.24,31.97 L76.93,31.97 L78.52,32.53 L79.62,33.63 L80.17,35.22 L80.17,35.91 L79.62,37.49 L78.52,38.60 L76.93,39.15 L76.24,39.15 L74.66,38.60 L73.55,37.49 L73.00,35.42 L73.55,33.63 L74.66,32.53Z M76.24,27.56 L77.48,27.56 L78.93,28.04 L79.62,29.21 L79.07,28.11 L77.48,27.56 L76.24,27.56 L74.66,28.11 L73.48,29.97 L73.00,32.39 L73.00,35.42 L73.55,37.49 L74.66,38.60 L76.24,39.15 L76.93,39.15 L78.52,38.60 L79.69,37.36 L80.17,35.91 L80.17,35.22 L79.62,33.63 L78.38,32.46 L76.93,31.97 L76.24,31.97 L74.66,32.53 L73.55,33.63 L73.14,34.94 L73.00,34.94 L73.00,32.39 L73.55,29.77 L74.66,28.11Z" fill="none" stroke="#000" stroke-width="1.3" stroke-linejoin="round" stroke-linecap="round"/>
<path d="M292.05,479.09 L294.80,490.65 L297.55,479.23 L300.31,490.65 L303.06,479.09 L300.31,490.51 L297.55,479.09 L294.87,490.44 L294.73,490.44Z M308.63,482.94 L310.35,482.94 L311.31,483.43 L312.48,484.60 L312.48,489.00 L311.31,490.17 L310.35,490.65 L308.63,490.65 L307.53,490.10 L306.43,489.00 L305.88,487.42 L305.88,486.18 L306.43,484.60 L307.53,483.49Z M307.53,483.49 L306.43,484.60 L305.88,486.18 L305.88,487.42 L306.43,489.00 L307.53,490.10 L308.63,490.65 L310.35,490.65 L311.31,490.17 L312.41,489.07 L312.48,490.65 L312.48,482.94 L312.41,484.53 L311.31,483.43 L310.35,482.94 L308.63,482.94Z M322.46,482.94 L319.16,490.58 L315.85,482.94 L319.16,490.65Z M325.28,486.18 L325.83,484.60 L326.93,483.49 L328.03,482.94 L329.75,482.94 L330.72,483.43 L331.33,484.05 L331.89,485.15 L331.82,486.25Z M328.03,482.94 L326.93,483.49 L325.83,484.60 L325.28,486.18 L325.28,487.42 L325.83,489.00 L326.93,490.10 L328.03,490.65 L329.75,490.65 L330.72,490.17 L331.89,489.00 L330.72,490.17 L329.75,490.65 L328.03,490.65 L326.93,490.10 L325.83,489.00 L325.28,487.42 L325.35,486.25 L331.89,486.25 L331.89,485.15 L331.33,484.05 L330.72,483.43 L329.75,482.94Z M335.81,479.09 L335.81,490.65Z M339.73,486.18 L340.28,484.60 L341.38,483.49 L342.48,482.94 L344.20,482.94 L345.16,483.43 L345.78,484.05 L346.33,485.15 L346.26,486.25Z M342.48,482.94 L341.38,483.49 L340.28,484.60 L339.73,486.18 L339.73,487.42 L340.28,489.00 L341.38,490.10 L342.48,490.65 L344.20,490.65 L345.16,490.17 L346.33,489.00 L345.16,490.17 L344.20,490.65 L342.48,490.65 L341.38,490.10 L340.28,489.00 L339.73,487.42 L339.80,486.25 L346.33,486.25 L346.33,485.15 L345.78,484.05 L345.16,483.43 L344.20,482.94Z M350.25,482.94 L350.25,490.65 L350.25,485.15 L351.91,483.49 L353.01,482.94 L354.73,482.94 L355.69,483.43 L356.31,485.08 L356.31,490.65 L356.31,485.08 L355.76,483.49 L354.73,482.94 L353.01,482.94 L351.91,483.49 L350.32,485.08Z M362.98,482.94 L364.70,482.94 L365.67,483.43 L366.84,484.60 L366.84,489.00 L365.67,490.17 L364.70,490.65 L362.98,490.65 L361.88,490.10 L360.78,489.00 L360.23,487.42 L360.23,486.18 L360.78,484.60 L361.88,483.49Z M366.84,482.94 L366.77,484.53 L365.67,483.43 L364.70,482.94 L362.98,482.94 L361.88,483.49 L360.71,484.73 L360.23,486.18 L360.23,487.42 L360.78,489.00 L361.88,490.10 L362.98,490.65 L364.70,490.65 L365.67,490.17 L366.77,489.07 L366.84,489.14 L366.84,491.82 L366.29,493.40 L365.67,494.02 L364.70,494.50 L362.98,494.50 L361.88,493.95 L362.98,494.50 L364.70,494.50 L365.67,494.02 L366.35,493.26 L366.84,491.82Z M371.86,479.09 L371.86,482.88 L370.21,482.94 L371.86,483.01 L371.86,488.52 L372.41,490.10 L373.51,490.65 L374.61,490.65 L373.51,490.65 L372.55,490.17 L372.34,489.96 L371.86,488.52 L371.86,483.01 L374.06,482.94 L371.86,482.88Z M377.98,479.09 L377.98,490.65 L377.98,485.15 L379.63,483.49 L380.73,482.94 L382.45,482.94 L383.42,483.43 L384.04,485.08 L384.04,490.65 L384.04,485.08 L383.49,483.49 L382.45,482.94 L380.73,482.94 L379.63,483.49 L378.05,485.08Z M397.38,476.89 L397.38,494.50 L401.24,494.50 L397.38,494.43 L397.38,476.96 L401.24,476.89Z M405.16,482.94 L405.16,490.65 L405.16,485.15 L406.81,483.49 L407.91,482.94 L409.63,482.94 L410.59,483.43 L411.21,485.08 L411.21,490.65 L411.21,485.15 L412.86,483.49 L413.96,482.94 L415.68,482.94 L416.65,483.43 L417.27,485.08 L417.27,490.65 L417.27,485.08 L416.65,483.43 L415.68,482.94 L413.96,482.94 L412.86,483.49 L411.21,485.08 L410.59,483.43 L409.63,482.94 L407.91,482.94 L406.81,483.49 L405.23,485.08Z M421.74,482.94 L421.74,490.65Z M421.74,478.54 L422.29,479.09 L421.74,479.64 L421.19,479.09Z M421.74,478.54 L421.19,479.09 L421.74,479.64 L422.29,479.09Z M428.41,482.94 L430.13,482.94 L431.09,483.43 L432.26,484.60 L431.09,483.43 L430.13,482.94 L428.41,482.94 L427.31,483.49 L426.21,484.60 L425.66,486.18 L425.66,487.42 L426.21,489.00 L427.31,490.10 L428.41,490.65 L430.13,490.65 L431.09,490.17 L432.26,489.00 L431.09,490.17 L430.13,490.65 L428.41,490.65 L427.31,490.10 L426.21,489.00 L425.66,487.42 L425.66,486.18 L426.21,484.60 L427.31,483.49Z M440.59,482.94 L438.94,482.94 L437.84,483.49 L436.74,484.60 L436.25,485.97 L436.19,482.94 L436.19,490.65 L436.19,486.18 L436.74,484.60 L437.84,483.49 L438.94,482.94Z M445.61,482.94 L447.33,482.94 L448.29,483.43 L449.46,484.60 L450.01,486.18 L450.01,487.42 L449.46,489.00 L448.29,490.17 L447.33,490.65 L445.61,490.65 L444.51,490.10 L443.41,489.00 L442.86,487.42 L442.86,486.18 L443.41,484.60 L444.51,483.49Z M445.61,482.94 L444.51,483.49 L443.41,484.60 L442.86,486.18 L442.86,487.42 L443.41,489.00 L444.51,490.10 L445.61,490.65 L447.33,490.65 L448.29,490.17 L449.46,489.00 L450.01,487.42 L450.01,486.18 L449.46,484.60 L448.29,483.43 L447.33,482.94Z M453.94,482.94 L453.94,490.65 L453.94,485.15 L455.59,483.49 L456.69,482.94 L458.41,482.94 L459.37,483.43 L459.99,485.08 L459.99,490.65 L459.99,485.08 L459.44,483.49 L458.41,482.94 L456.69,482.94 L455.59,483.49 L454.01,485.08Z M463.91,476.89 L467.77,476.96 L467.77,494.43 L463.91,494.50 L467.77,494.50 L467.77,476.89Z" fill="none" stroke="#000" stroke-width="1.3" stroke-linejoin="round" stroke-linecap="round"/>
<path d="M43.83,264.96 L43.83,272.03 L55.25,272.03 L49.33,272.03 L49.27,267.68 L49.20,272.03 L43.89,272.03Z M43.83,262.17 L55.25,262.17Z M47.63,257.75 L53.14,257.75 L54.71,257.21 L55.25,256.12 L55.25,254.42 L54.77,253.47 L53.14,251.84 L55.25,251.77 L47.63,251.77 L53.07,251.77 L54.77,253.47 L55.25,254.42 L55.25,256.12 L54.57,257.28 L53.14,257.75Z M47.63,247.89 L51.44,244.90 L55.25,247.89 L51.44,244.90 L55.25,241.91 L51.44,244.90 L47.63,241.91 L51.44,244.90Z M41.65,229.26 L59.06,229.26 L59.06,225.45 L58.99,229.26 L41.72,229.26 L41.65,225.45Z M43.83,217.22 L52.60,217.22 L54.16,217.77 L54.77,218.38 L55.25,219.33 L55.25,220.49 L54.71,221.58 L54.16,222.12 L52.60,222.66 L51.44,222.66 L52.60,222.66 L54.16,222.12 L54.71,221.58 L55.25,220.49 L55.25,219.33 L54.77,218.38 L54.16,217.77 L52.60,217.22Z M47.63,207.36 L55.18,210.63 L47.63,213.89 L55.32,210.63 L57.36,211.65 L58.58,212.87 L59.06,213.82 L59.06,214.44 L59.06,213.82 L58.58,212.87 L57.36,211.65 L55.32,210.63Z M41.65,204.58 L41.72,200.77 L58.99,200.77 L59.06,204.58 L59.06,200.77 L41.65,200.77Z" fill="none" stroke="#000" stroke-width="1.3" stroke-linejoin="round" stroke-linecap="round"/>
<path d="M542.82,354.01 L541.44,354.01 L540.52,354.47 L539.60,355.39 L539.20,356.54 L539.14,354.01 L539.14,360.45 L539.14,356.71 L539.60,355.39 L540.52,354.47 L541.44,354.01Z M544.72,356.71 L545.18,355.39 L546.10,354.47 L547.02,354.01 L548.45,354.01 L549.26,354.41 L549.78,354.93 L550.24,355.85 L550.18,356.77Z M547.02,354.01 L546.10,354.47 L545.18,355.39 L544.72,356.71 L544.72,357.75 L545.18,359.07 L546.10,359.99 L547.02,360.45 L548.45,360.45 L549.26,360.05 L550.24,359.07 L549.26,360.05 L548.45,360.45 L547.02,360.45 L546.10,359.99 L545.18,359.07 L544.72,357.75 L544.77,356.77 L550.24,356.77 L550.24,355.85 L549.78,354.93 L549.26,354.41 L548.45,354.01Z M553.51,354.47 L553.05,355.39 L553.51,356.31 L554.61,356.83 L556.79,357.23 L557.65,357.69 L558.12,358.61 L558.12,359.13 L557.65,359.99 L556.33,360.45 L554.84,360.45 L553.46,359.93 L553.05,359.07 L553.46,359.93 L554.84,360.45 L556.33,360.45 L557.65,359.99 L558.12,359.13 L558.12,358.61 L557.60,357.63 L556.79,357.23 L554.43,356.77 L553.51,356.31 L553.05,355.45 L553.63,354.41 L554.84,354.01 L556.33,354.01 L557.54,354.41 L558.12,355.39 L557.65,354.47 L556.33,354.01 L554.84,354.01Z M568.35,354.01 L570.88,357.23 L568.35,360.45 L570.88,357.23 L573.41,360.45 L570.88,357.23 L573.41,354.01 L570.88,357.23Z M587.32,350.79 L585.89,352.23 L585.02,352.63 L585.89,352.23 L587.27,350.85 L587.32,350.90 L587.32,360.45Z M593.82,359.53 L594.28,359.99 L593.82,360.45 L593.36,359.99Z M593.82,359.53 L593.36,359.99 L593.82,360.45 L594.28,359.99Z M604.00,350.79 L597.56,350.79 L604.00,350.85 L599.40,360.45Z" fill="none" stroke="#000" stroke-width="1.2" stroke-linejoin="round" stroke-linecap="round"/>
</svg></body></html>
